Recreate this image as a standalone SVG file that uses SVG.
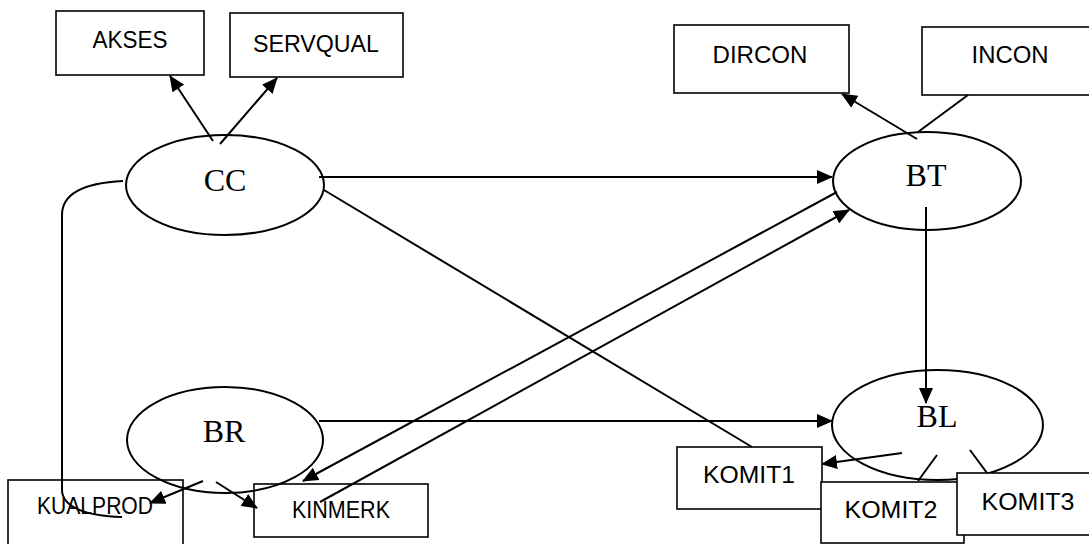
<svg xmlns="http://www.w3.org/2000/svg" width="1089" height="544" viewBox="0 0 1089 544">
<style>
.box{fill:none;stroke:#000;stroke-width:1.6}
.boxw{fill:#fff;stroke:#000;stroke-width:1.6}
.ell{fill:none;stroke:#000;stroke-width:2}
.lbl{font-family:"Liberation Sans",Arial,sans-serif;font-size:23px;fill:#000;text-anchor:middle}
.big{font-family:"Liberation Serif","Times New Roman",serif;font-size:32px;fill:#000;text-anchor:middle}
.ln{fill:none;stroke:#000;stroke-width:2}
.ar{fill:none;stroke:#000;stroke-width:2;marker-end:url(#ah)}
</style>
<defs>
<marker id="ah" markerUnits="userSpaceOnUse" markerWidth="16" markerHeight="14" viewBox="0 0 16 14" refX="15" refY="7" orient="auto">
<path d="M0,0 L16,7 L0,14 Z" fill="#000"/>
</marker>
</defs>
<rect width="1089" height="544" fill="#fff"/>
<g id="AKSES"><rect class="box" x="56" y="11" width="148" height="64"/><text class="lbl" x="130" y="48" textLength="75" lengthAdjust="spacingAndGlyphs">AKSES</text></g>
<g id="SERVQUAL"><rect class="box" x="230" y="13" width="173" height="64"/><text class="lbl" x="316" y="52" textLength="126" lengthAdjust="spacingAndGlyphs">SERVQUAL</text></g>
<g id="DIRCON"><rect class="box" x="674" y="25" width="175" height="68"/><text class="lbl" x="760" y="63" textLength="95" lengthAdjust="spacingAndGlyphs">DIRCON</text></g>
<g id="INCON"><rect class="box" x="922" y="27" width="180" height="68"/><text class="lbl" x="1010" y="63" textLength="77" lengthAdjust="spacingAndGlyphs">INCON</text></g>
<g id="CC"><ellipse class="ell" cx="225" cy="185" rx="99" ry="50"/><text class="big" x="225" y="191">CC</text></g>
<g id="BT"><ellipse class="ell" cx="927" cy="181" rx="94" ry="49"/><text class="big" x="926" y="186">BT</text></g>
<g id="KUALPROD"><rect class="box" x="8" y="480" width="175" height="80"/><text class="lbl" x="95" y="514" textLength="116" lengthAdjust="spacingAndGlyphs">KUALPROD</text></g>
<g id="KINMERK"><rect class="box" x="254" y="484" width="174" height="53"/><text class="lbl" x="341" y="518" textLength="98" lengthAdjust="spacingAndGlyphs">KINMERK</text></g>
<g id="BR"><ellipse class="ell" cx="225" cy="440" rx="98" ry="53"/><text class="big" x="224" y="442">BR</text></g>
<g id="BL"><ellipse class="ell" cx="937.5" cy="425" rx="105.5" ry="55"/><text class="big" x="937" y="427">BL</text></g>
<g id="KOMIT1"><rect class="boxw" x="677" y="447" width="145" height="62"/><text class="lbl" x="749" y="483" textLength="92" lengthAdjust="spacingAndGlyphs">KOMIT1</text></g>
<g id="KOMIT2"><rect class="boxw" x="821" y="482" width="143" height="61"/><text class="lbl" x="891" y="518" textLength="93" lengthAdjust="spacingAndGlyphs">KOMIT2</text></g>
<g id="KOMIT3"><rect class="boxw" x="957" y="473" width="145" height="62"/><text class="lbl" x="1028" y="510" textLength="93" lengthAdjust="spacingAndGlyphs">KOMIT3</text></g>
<g id="connectors">
<line class="ar" x1="213" y1="141" x2="170" y2="76"/>
<line class="ar" x1="220" y1="144" x2="277" y2="78"/>
<line class="ar" x1="917" y1="139" x2="842" y2="94"/>
<line class="ln" x1="918" y1="132" x2="968" y2="95"/>
<line class="ar" x1="319" y1="177" x2="832" y2="177"/>
<line class="ln" x1="324" y1="190" x2="752" y2="447"/>
<line class="ar" x1="837" y1="192" x2="303" y2="481"/>
<line class="ar" x1="320" y1="502" x2="849" y2="210"/>
<line class="ar" x1="926" y1="207" x2="926" y2="403"/>
<line class="ar" x1="319" y1="421" x2="832" y2="421"/>
<path class="ln" d="M123,181 C82,183 62,195 62,215 L62,490 C62,506 84,516 122,517"/>
<line class="ar" x1="203" y1="481" x2="150" y2="503"/>
<line class="ar" x1="216" y1="482" x2="257" y2="508"/>
<line class="ar" x1="902" y1="453" x2="822" y2="464"/>
<line class="ln" x1="937" y1="455" x2="918" y2="481"/>
<line class="ln" x1="970" y1="450" x2="987" y2="473"/>
</g>
</svg>
